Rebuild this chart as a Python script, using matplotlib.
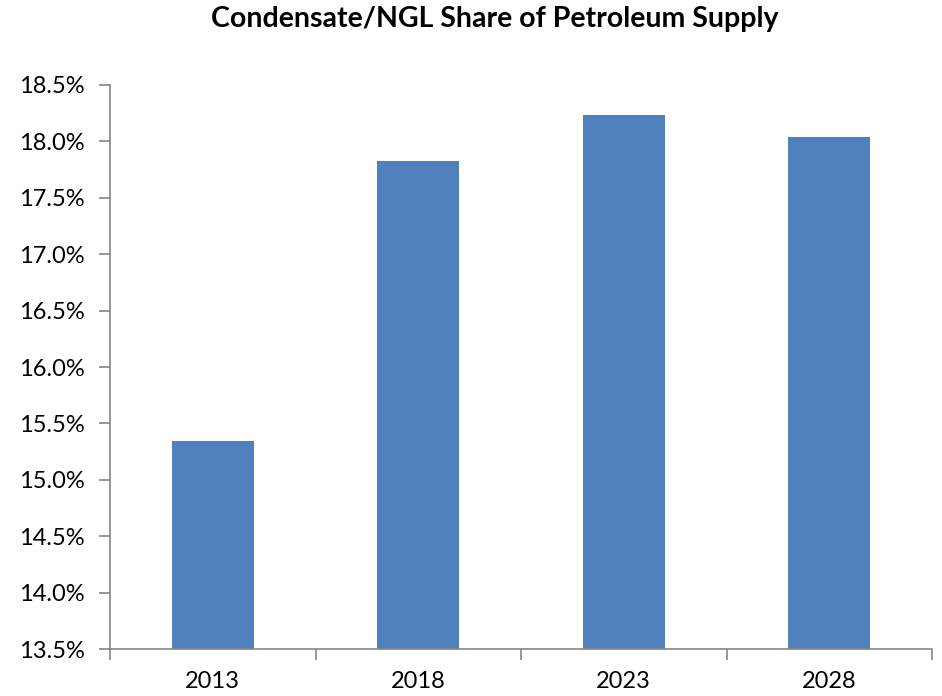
import numpy as np
import matplotlib
matplotlib.use('Agg')
import matplotlib.pyplot as plt
from matplotlib.ticker import FuncFormatter, MultipleLocator

# Data
years = ['2013', '2018', '2023', '2028']
share = [15.34, 17.83, 18.23, 18.04]

plt.rcParams['font.family'] = ['Lato', 'DejaVu Sans']

fig = plt.figure(figsize=(9.42, 6.96), dpi=100)
ax = fig.add_axes([0.1168, 0.0675, 0.8726, 0.8104])

x = np.arange(len(years))
ax.bar(x, share, width=0.4, color='#4F81BD', zorder=2)

ax.set_ylim(13.5, 18.5)
ax.set_xlim(-0.5, len(years) - 0.5)
ax.yaxis.set_major_locator(MultipleLocator(0.5))
ax.yaxis.set_major_formatter(FuncFormatter(lambda v, p: '{:.1f}%'.format(v)))

# Category labels at bar centres, tick marks at category boundaries
ax.set_xticks(np.arange(len(years) + 1) - 0.5)
ax.set_xticklabels([])
ax.set_xticks(x, minor=True)
ax.set_xticklabels(years, minor=True)
ax.tick_params(axis='x', which='minor', length=0, pad=16, labelsize=17)
ax.tick_params(axis='x', which='major', length=8, width=1.2, color='#868686', direction='out')
ax.tick_params(axis='y', length=8, width=1.2, color='#868686', direction='out', pad=10, labelsize=17)

for side in ['top', 'right']:
    ax.spines[side].set_visible(False)
for side in ['left', 'bottom']:
    ax.spines[side].set_color('#868686')
    ax.spines[side].set_linewidth(1.2)

fig.text(0.525, 0.972, 'Condensate/NGL Share of Petroleum Supply',
         ha='center', va='center', fontsize=20.5, fontweight='bold')

fig.savefig('out.png', dpi=100)
